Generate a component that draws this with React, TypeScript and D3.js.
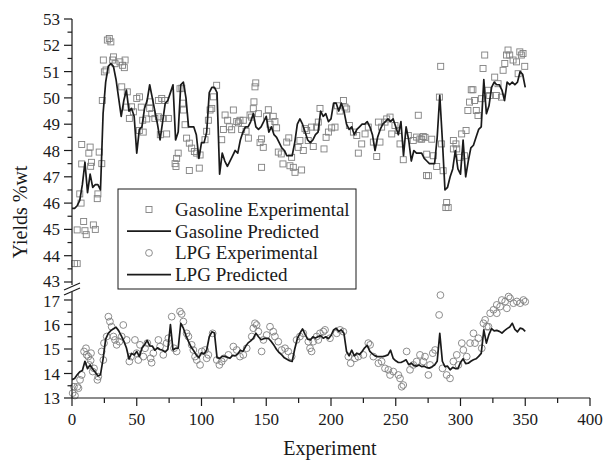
import React from "react";
import * as d3 from "d3";

// predicted curves, one value every 2 experiments (0, 2, 4, ... 350)
const gasPred = [
  45.8, 45.8, 45.9, 46.1, 46.7, 47.55, 46.4, 47.1, 46.6, 46.7, 46.7, 46.5, 49.4, 50.6, 51.2, 51.3,
  51.2, 50.7, 50.0, 49.3, 49.9, 50.3, 49.5, 49.6, 49.3, 47.9, 48.8, 48.9, 49.6, 49.9, 50.5, 50.0,
  49.5, 49.0, 48.4, 49.1, 49.8, 49.9, 50.2, 50.5, 48.4, 48.7, 50.5, 50.6, 50.0, 48.9, 48.9, 48.9,
  48.6, 47.7, 48.3, 48.3, 48.7, 50.2, 50.4, 50.4, 50.2, 47.1, 47.9, 47.6, 47.4, 47.6, 47.8, 48.0,
  47.9, 48.4, 48.7, 48.9, 48.9, 49.1, 49.4, 48.9, 48.8, 48.9, 49.1, 49.3, 48.7, 48.9, 48.6, 48.5,
  48.3, 48.1, 48.0, 47.8, 47.8, 47.8, 48.3, 49.0, 49.2, 49.0, 48.7, 48.4, 48.3, 48.4, 48.6, 48.7,
  49.5, 49.3, 49.4, 49.1, 49.2, 49.8, 49.8, 49.5, 49.8, 49.5, 49.0, 48.8, 48.9, 48.6, 48.8, 48.9,
  49.0, 49.0, 49.1, 48.9, 48.6, 48.0, 48.5, 48.8, 49.0, 49.1, 49.2, 49.1, 49.2, 48.9, 48.6, 49.1,
  47.8, 48.9, 48.4, 47.6, 48.0, 47.9, 47.9, 47.9, 47.7, 47.6, 47.5, 47.5, 47.5, 48.5, 50.1, 48.4,
  46.5, 46.6, 47.0, 47.3, 48.0, 47.3, 47.1, 48.4, 47.0, 47.6, 48.1, 48.2, 48.5, 48.8, 48.9, 50.7,
  49.4, 49.7, 50.4, 50.6, 50.5, 50.5, 50.3, 49.9, 50.6, 50.5, 50.6, 50.5, 50.6, 51.0, 50.9, 50.4,
];

const lpgPred = [
  13.75, 13.8, 13.95, 14.07, 14.12, 14.5, 14.2, 14.35, 14.18, 14.05, 13.9, 13.95, 14.6, 15.4, 15.64, 15.75,
  15.83, 15.89, 15.75, 15.55, 15.32, 15.05, 14.6, 14.82, 14.76, 14.9, 14.69, 15.03, 15.17, 15.35, 15.13, 15.12,
  14.95, 15.05, 14.98, 14.95, 14.88, 14.98, 16.0, 14.96, 15.03, 15.03, 16.05, 15.85, 15.55, 15.3, 15.08, 14.93,
  14.75, 14.65, 14.85, 14.8, 14.96, 15.5, 15.7, 15.65, 14.65, 14.62, 14.7, 14.7, 14.66, 14.62, 14.74, 14.72,
  14.8, 14.95, 14.9, 15.1, 15.25, 15.33, 15.44, 15.64, 15.5, 15.38, 15.42, 15.44, 15.42, 15.3, 15.15, 14.98,
  14.85, 14.76, 14.64, 14.58, 14.52, 14.49, 15.0, 15.42, 15.64, 15.82, 15.6, 15.4, 15.37, 15.5, 15.45, 15.5,
  15.55, 15.44, 15.5, 15.42, 15.55, 15.78, 15.85, 15.72, 15.78, 15.64, 14.9, 14.72, 14.95, 14.72, 14.83, 14.77,
  14.9, 15.05, 15.15, 14.9, 14.8, 14.72, 14.69, 14.69, 14.69, 14.72, 14.76, 14.95, 14.62, 14.52, 14.45, 14.45,
  14.5, 14.56, 14.36, 14.42, 14.32, 14.3, 14.35, 14.28, 14.3, 14.24, 14.22, 14.28, 14.35, 14.5, 15.64, 14.5,
  14.28, 14.3, 14.15, 14.25, 14.2, 14.2, 14.45, 14.6, 14.4, 14.42, 14.5, 14.56, 14.6, 14.7, 14.82, 15.78,
  15.24, 15.6, 15.83, 15.74, 15.76, 15.72, 15.65, 15.75, 15.83, 15.9, 16.05, 15.8, 15.7, 15.85, 15.82, 15.72,
];

// experimental points (experiment number, yield)
const gasExpX = [
  2, 4, 4, 6, 7, 7.5, 7.5, 9, 10, 11, 13, 14, 14.4, 15, 16.5, 18, 19.5, 20, 21, 23, 23.4, 24.2, 25, 26.3,
  27.3, 28.8, 30, 31.4, 32, 33.3, 37, 38.4, 39, 40.4, 41, 42.2, 42.7, 44.3, 46, 47.4, 50, 52, 52.1, 53.5,
  54.6, 55, 57.7, 60, 60.3, 61.6, 64, 66.7, 66.7, 68.2, 69.3, 70.5, 71.8, 73.1, 74.4, 79.6, 80.3, 80.8, 82, 83.4,
  84.8, 85.5, 86, 87.3, 88.5, 90.6, 90.6, 92.4, 94.5, 96.3, 98.3, 98.9, 102.7, 104, 105.3, 106.6, 107.9, 109.2, 111.7, 115.6,
  116.9, 118.2, 120.2, 121.5, 123.3, 124.6, 127.2, 128.5, 129.7, 131, 132.3, 134.4, 136.2, 137.5, 138.7, 140, 140.5, 141.3, 141.9, 143.9,
  145.2, 146.4, 146.4, 147.7, 150.3, 151.6, 152.9, 155.4, 156.7, 158, 159.3, 161.6, 162.9, 165.8, 167.4, 168.3, 169.6, 170.9, 172.2, 174.7,
  176, 177.3, 178.6, 179.9, 181.2, 182.4, 185, 186.3, 188.9, 190.2, 191.5, 194.6, 196.2, 198, 200.5, 203.1, 204.9, 207, 209.6, 210.8,
  212.1, 214.2, 217.3, 219.9, 221.1, 223.7, 226.3, 228.8, 232.7, 235.3, 236.6, 237.8, 239.1, 241.7, 243, 245.6, 246.9, 249.4, 252, 253.3,
  255.8, 259.7, 263.5, 266.1, 267.4, 268.7, 270, 271.3, 272.6, 273.8, 273.9, 275.2, 277.8, 279, 281.6, 283.7, 284.7, 285.4, 286.6, 288.7,
  289.3, 290.5, 294.5, 294.5, 296.5, 297.1, 299.6, 300.9, 303.1, 304.3, 305.7, 307, 308.3, 309.6, 310.9, 312.2, 313.5, 316.1, 317.4, 318.7,
  321.2, 322.5, 326.4, 327.7, 329, 331.6, 332.9, 334.2, 335.5, 336.7, 338, 340.6, 343.2, 344.5, 345.8, 347, 348.3, 349.6,
];
const gasExpY = [
  43.7, 43.7, 44.98, 46.35, 46.0, 47.49, 48.23, 45.3, 44.95, 44.8, 47.9, 48.13, 47.4, 47.55, 45.17, 45.0, 46.17, 46.35, 47.94, 47.5, 49.9, 51.44, 50.99, 51.06,
  52.2, 52.26, 52.13, 51.44, 51.56, 51.3, 51.37, 50.42, 51.24, 51.15, 51.44, 49.65, 50.23, 49.22, 49.66, 49.47, 49.98, 48.76, 50.04, 49.65,
  49.15, 48.7, 49.2, 49.6, 49.85, 49.4, 49.22, 49.9, 49.28, 48.6, 49.98, 49.22, 49.9, 48.63, 49.22, 47.5, 47.39, 47.7, 47.9, 50.35,
  50.37, 49.8, 49.54, 48.98, 48.47, 48.28, 47.24, 48.09, 47.96, 47.9, 47.33, 47.83, 48.41, 48.73, 49.15, 49.54, 49.6, 50.04, 50.48, 48.41,
  48.8, 49.35, 49.15, 48.9, 48.79, 49.54, 49.1, 49.05, 49.15, 48.8, 49.15, 48.73, 48.47, 49.35, 49.27, 49.59, 49.85, 50.42, 50.57, 49.4,
  48.3, 47.36, 48.44, 48.12, 49.3, 49.55, 49.0, 49.3, 49.1, 48.86, 47.94, 47.87, 47.49, 48.32, 48.48, 47.42, 47.74, 47.36, 47.17, 48.12,
  48.38, 47.26, 48.0, 48.83, 48.76, 48.38, 48.89, 48.15, 48.89, 49.08, 49.6, 48.06, 48.5, 48.7, 48.86, 48.89, 49.7, 49.5, 49.9, 49.65,
  49.58, 48.95, 48.7, 48.57, 47.9, 48.25, 48.63, 48.89, 48.32, 47.77, 49.08, 48.32, 48.89, 49.08, 49.2, 49.27, 48.63, 48.95, 48.76, 48.25,
  47.65, 48.57, 48.38, 48.51, 49.34, 48.44, 48.43, 48.53, 48.5, 47.05, 47.86, 47.04, 48.43, 47.8, 47.39, 50.03, 51.2, 48.25, 47.23, 45.83,
  46.02, 45.83, 48.38, 48.06, 48.25, 48.06, 47.74, 48.63, 47.8, 48.76, 49.52, 49.84, 50.31, 50.31, 49.9, 49.52, 49.33, 49.97, 51.12, 51.63,
  50.29, 50.09, 50.79, 50.09, 50.54, 50.03, 51.05, 51.31, 51.63, 51.82, 51.63, 51.44, 51.37, 50.92, 51.75, 51.63, 51.69, 51.2,
];

const lpgExpX = [
  0.5, 1.5, 2.3, 4.1, 5, 6.2, 7.5, 9.3, 10.8, 11.3, 12.6, 13.4, 14.4, 14.7, 16, 17, 19.6, 20.3, 22.9, 24.2, 24.7, 26.8, 28.1, 29.3,
  30.6, 32, 33.2, 34.5, 36.6, 38.4, 39.6, 42.2, 44.3, 45.6, 48.6, 49.9, 51.2, 52.5, 55.1, 56.4, 58.2, 60.7, 61.5, 62.8, 66.7, 68,
  70.5, 73.1, 74.4, 77, 78.8, 80.8, 83.4, 84.7, 86, 88.5, 89.9, 92.4, 93.7, 95, 96.3, 98.9, 100.2, 102.8, 104, 105.3, 108.6, 111.8,
  113.8, 115.6, 117.4, 120.8, 124.6, 127.2, 129.7, 132.3, 134.9, 138.8, 140, 141.3, 142.6, 143.9, 146.4, 147.8, 150.3, 152.9, 155.4, 156.7,
  159.3, 161.9, 164.5, 167, 169.6, 173.4, 176, 178.6, 182.5, 183.8, 185, 186.3, 188.9, 190.2, 191.5, 194.1, 195.4, 199.2, 204.4, 207,
  209.5, 213.4, 215.2, 218.5, 221.1, 225, 228.8, 230.2, 232.7, 236.6, 239.1, 241.7, 244.3, 245.6, 248.1, 252, 253.3, 254.6, 255.8, 258.4,
  261, 263.6, 266.1, 268.7, 271.3, 272.6, 275.2, 276.5, 278.6, 280.4, 283.5, 284.5, 286.1, 289.3, 291.9, 294.5, 297.1, 298.4, 301, 302.2,
  304.8, 307.4, 310, 311.2, 313.8, 316.4, 317.7, 319, 320.3, 321.6, 322.9, 325.5, 328, 328, 330.6, 331.9, 334.5, 335.8, 337.1, 338.3,
  340.9, 343.5, 346.1, 348.6, 350,
];
const lpgExpY = [
  13.2, 13.46, 13.1, 13.46, 13.4, 13.74, 13.94, 14.9, 15.03, 14.76, 14.69, 14.35, 14.53, 14.83, 14.08, 14.21, 13.74, 13.87, 14.9, 14.55, 15.24, 15.51, 16.32, 16.12,
  15.91, 15.51, 15.37, 15.17, 15.3, 15.51, 15.98, 15.37, 14.49, 14.69, 15.37, 14.83, 14.55, 15.17, 14.69, 15.03, 15.24, 14.62, 14.44, 14.83, 15.37, 15.1,
  14.76, 15.24, 15.44, 16.32, 15.03, 14.9, 16.53, 16.43, 16.12, 15.64, 15.51, 15.17, 14.96, 14.69, 14.55, 14.35, 14.9, 14.96, 14.62, 14.76, 15.64, 14.55,
  14.35, 14.49, 14.62, 14.76, 15.1, 14.96, 14.69, 14.76, 15.03, 15.51, 15.85, 16.05, 15.98, 15.71, 14.9, 15.37, 15.57, 15.91, 15.71, 15.51,
  15.3, 14.96, 15.03, 14.9, 14.69, 15.37, 15.51, 15.64, 15.3, 15.03, 14.9, 15.3, 15.51, 15.37, 15.64, 15.71, 15.78, 15.44, 15.64, 15.78,
  15.71, 14.69, 14.42, 14.62, 14.69, 14.76, 15.24, 15.17, 14.69, 14.42, 14.49, 14.21, 14.15, 13.94, 14.08, 13.94, 13.8, 13.46, 13.53, 14.9,
  14.15, 14.35, 14.49, 14.76, 14.49, 14.69, 13.94, 14.35, 14.83, 14.96, 16.39, 17.2, 14.21, 13.94, 13.8, 14.49, 14.76, 14.35, 15.24, 14.96,
  14.69, 15.24, 15.64, 15.24, 15.44, 15.03, 16.05, 16.19, 15.91, 15.91, 16.46, 16.6, 16.8, 16.46, 16.73, 17.0, 16.94, 16.66, 17.14, 17.07,
  16.87, 16.94, 16.87, 17.0, 16.93,
];

const xTicks = [0, 50, 100, 150, 200, 250, 300, 350, 400];
const upperTicks = [43, 44, 45, 46, 47, 48, 49, 50, 51, 52, 53];
const lowerTicks = [13, 14, 15, 16, 17];

const legendItems = [
  { label: "Gasoline Experimental", kind: "square" },
  { label: "Gasoline Predicted", kind: "line" },
  { label: "LPG Experimental", kind: "circle" },
  { label: "LPG Predicted", kind: "line" },
];

const W = 603, H = 462;
const FONT = "'Liberation Serif', 'Times New Roman', serif";

export default function App() {
  const x = d3.scaleLinear().domain([0, 400]).range([72, 590]);
  const yUp = d3.scaleLinear().domain([43, 53]).range([282, 19]);
  const yLo = d3.scaleLinear().domain([13, 17]).range([398, 300]);

  const gasLine = d3.line<number>().x((d, i) => x(i * 2)).y(d => yUp(d));
  const lpgLine = d3.line<number>().x((d, i) => x(i * 2)).y(d => yLo(d));

  const xMinor = d3.range(25, 400, 50);
  const upMinor = d3.range(43.5, 53, 1);
  const loMinor = d3.range(13.5, 17, 1);

  const ink = "#1a1a1a";
  const markGrey = "#808080";

  return (
    <svg width={W} height={H} style={{ position: "absolute", left: 0, top: 0, background: "#fff" }}
      fontFamily={FONT}>
      {/* experimental points */}
      <g fill="none" stroke={markGrey} strokeWidth={0.9}>
        {gasExpX.map((v, i) => (
          <rect key={"g" + i} x={x(v) - 3} y={yUp(gasExpY[i]) - 3} width={6} height={6} />
        ))}
        {lpgExpX.map((v, i) => (
          <circle key={"l" + i} cx={x(v)} cy={yLo(lpgExpY[i])} r={3.4} />
        ))}
      </g>
      {/* predicted lines */}
      <path d={gasLine(gasPred) || ""} fill="none" stroke={ink} strokeWidth={1.7} strokeLinejoin="round" />
      <path d={lpgLine(lpgPred) || ""} fill="none" stroke={ink} strokeWidth={1.7} strokeLinejoin="round" />

      {/* x axis */}
      <g stroke={ink} strokeWidth={1.2}>
        <line x1={x(0)} x2={x(400)} y1={398} y2={398} />
        {xTicks.map(t => <line key={t} x1={x(t)} x2={x(t)} y1={398} y2={406} />)}
        {xMinor.map(t => <line key={t} x1={x(t)} x2={x(t)} y1={398} y2={403} />)}
      </g>
      <g fontSize={17} textAnchor="middle" fill={ink}>
        {xTicks.map(t => <text key={t} x={x(t)} y={425}>{t}</text>)}
      </g>
      <text x={330} y={455} fontSize={20} textAnchor="middle" fill={ink}>Experiment</text>

      {/* y axis, broken */}
      <g stroke={ink} strokeWidth={1.2}>
        <line x1={72} x2={72} y1={yUp(53)} y2={285} />
        <line x1={72} x2={72} y1={292} y2={398} />
        {upperTicks.map(t => <line key={"u" + t} x1={64} x2={72} y1={yUp(t)} y2={yUp(t)} />)}
        {upMinor.map(t => <line key={"um" + t} x1={67.5} x2={72} y1={yUp(t)} y2={yUp(t)} />)}
        {lowerTicks.map(t => <line key={"l" + t} x1={64} x2={72} y1={yLo(t)} y2={yLo(t)} />)}
        {loMinor.map(t => <line key={"lm" + t} x1={67.5} x2={72} y1={yLo(t)} y2={yLo(t)} />)}
        <line x1={64} x2={80} y1={290} y2={283} />
        <line x1={64} x2={80} y1={295} y2={288} />
      </g>
      <g fontSize={17} textAnchor="end" fill={ink}>
        {upperTicks.map(t => <text key={"u" + t} x={60} y={yUp(t) + (t === 43 ? 5 : 6)}>{t}</text>)}
        {lowerTicks.map(t => <text key={"l" + t} x={60} y={yLo(t) + (t === 17 ? 7 : 6)}>{t}</text>)}
      </g>
      <text transform="translate(27,212) rotate(-90)" fontSize={20} textAnchor="middle" fill={ink}>Yields %wt</text>

      {/* legend */}
      <rect x={118} y={189} width={238} height={100} fill="#fff" stroke={ink} strokeWidth={1} />
      {legendItems.map((it, i) => {
        const cy = 209.5 + i * 21.7;
        return (
          <g key={it.label}>
            {it.kind === "square" && <rect x={146} y={cy - 3} width={6} height={6} fill="none" stroke={markGrey} strokeWidth={0.9} />}
            {it.kind === "circle" && <circle cx={149} cy={cy} r={3.4} fill="none" stroke={markGrey} strokeWidth={0.9} />}
            {it.kind === "line" && <line x1={127} x2={171} y1={cy} y2={cy} stroke={ink} strokeWidth={1.7} />}
            <text x={175} y={cy + 6.5} fontSize={19} fill={ink}>{it.label}</text>
          </g>
        );
      })}
    </svg>
  );
}
